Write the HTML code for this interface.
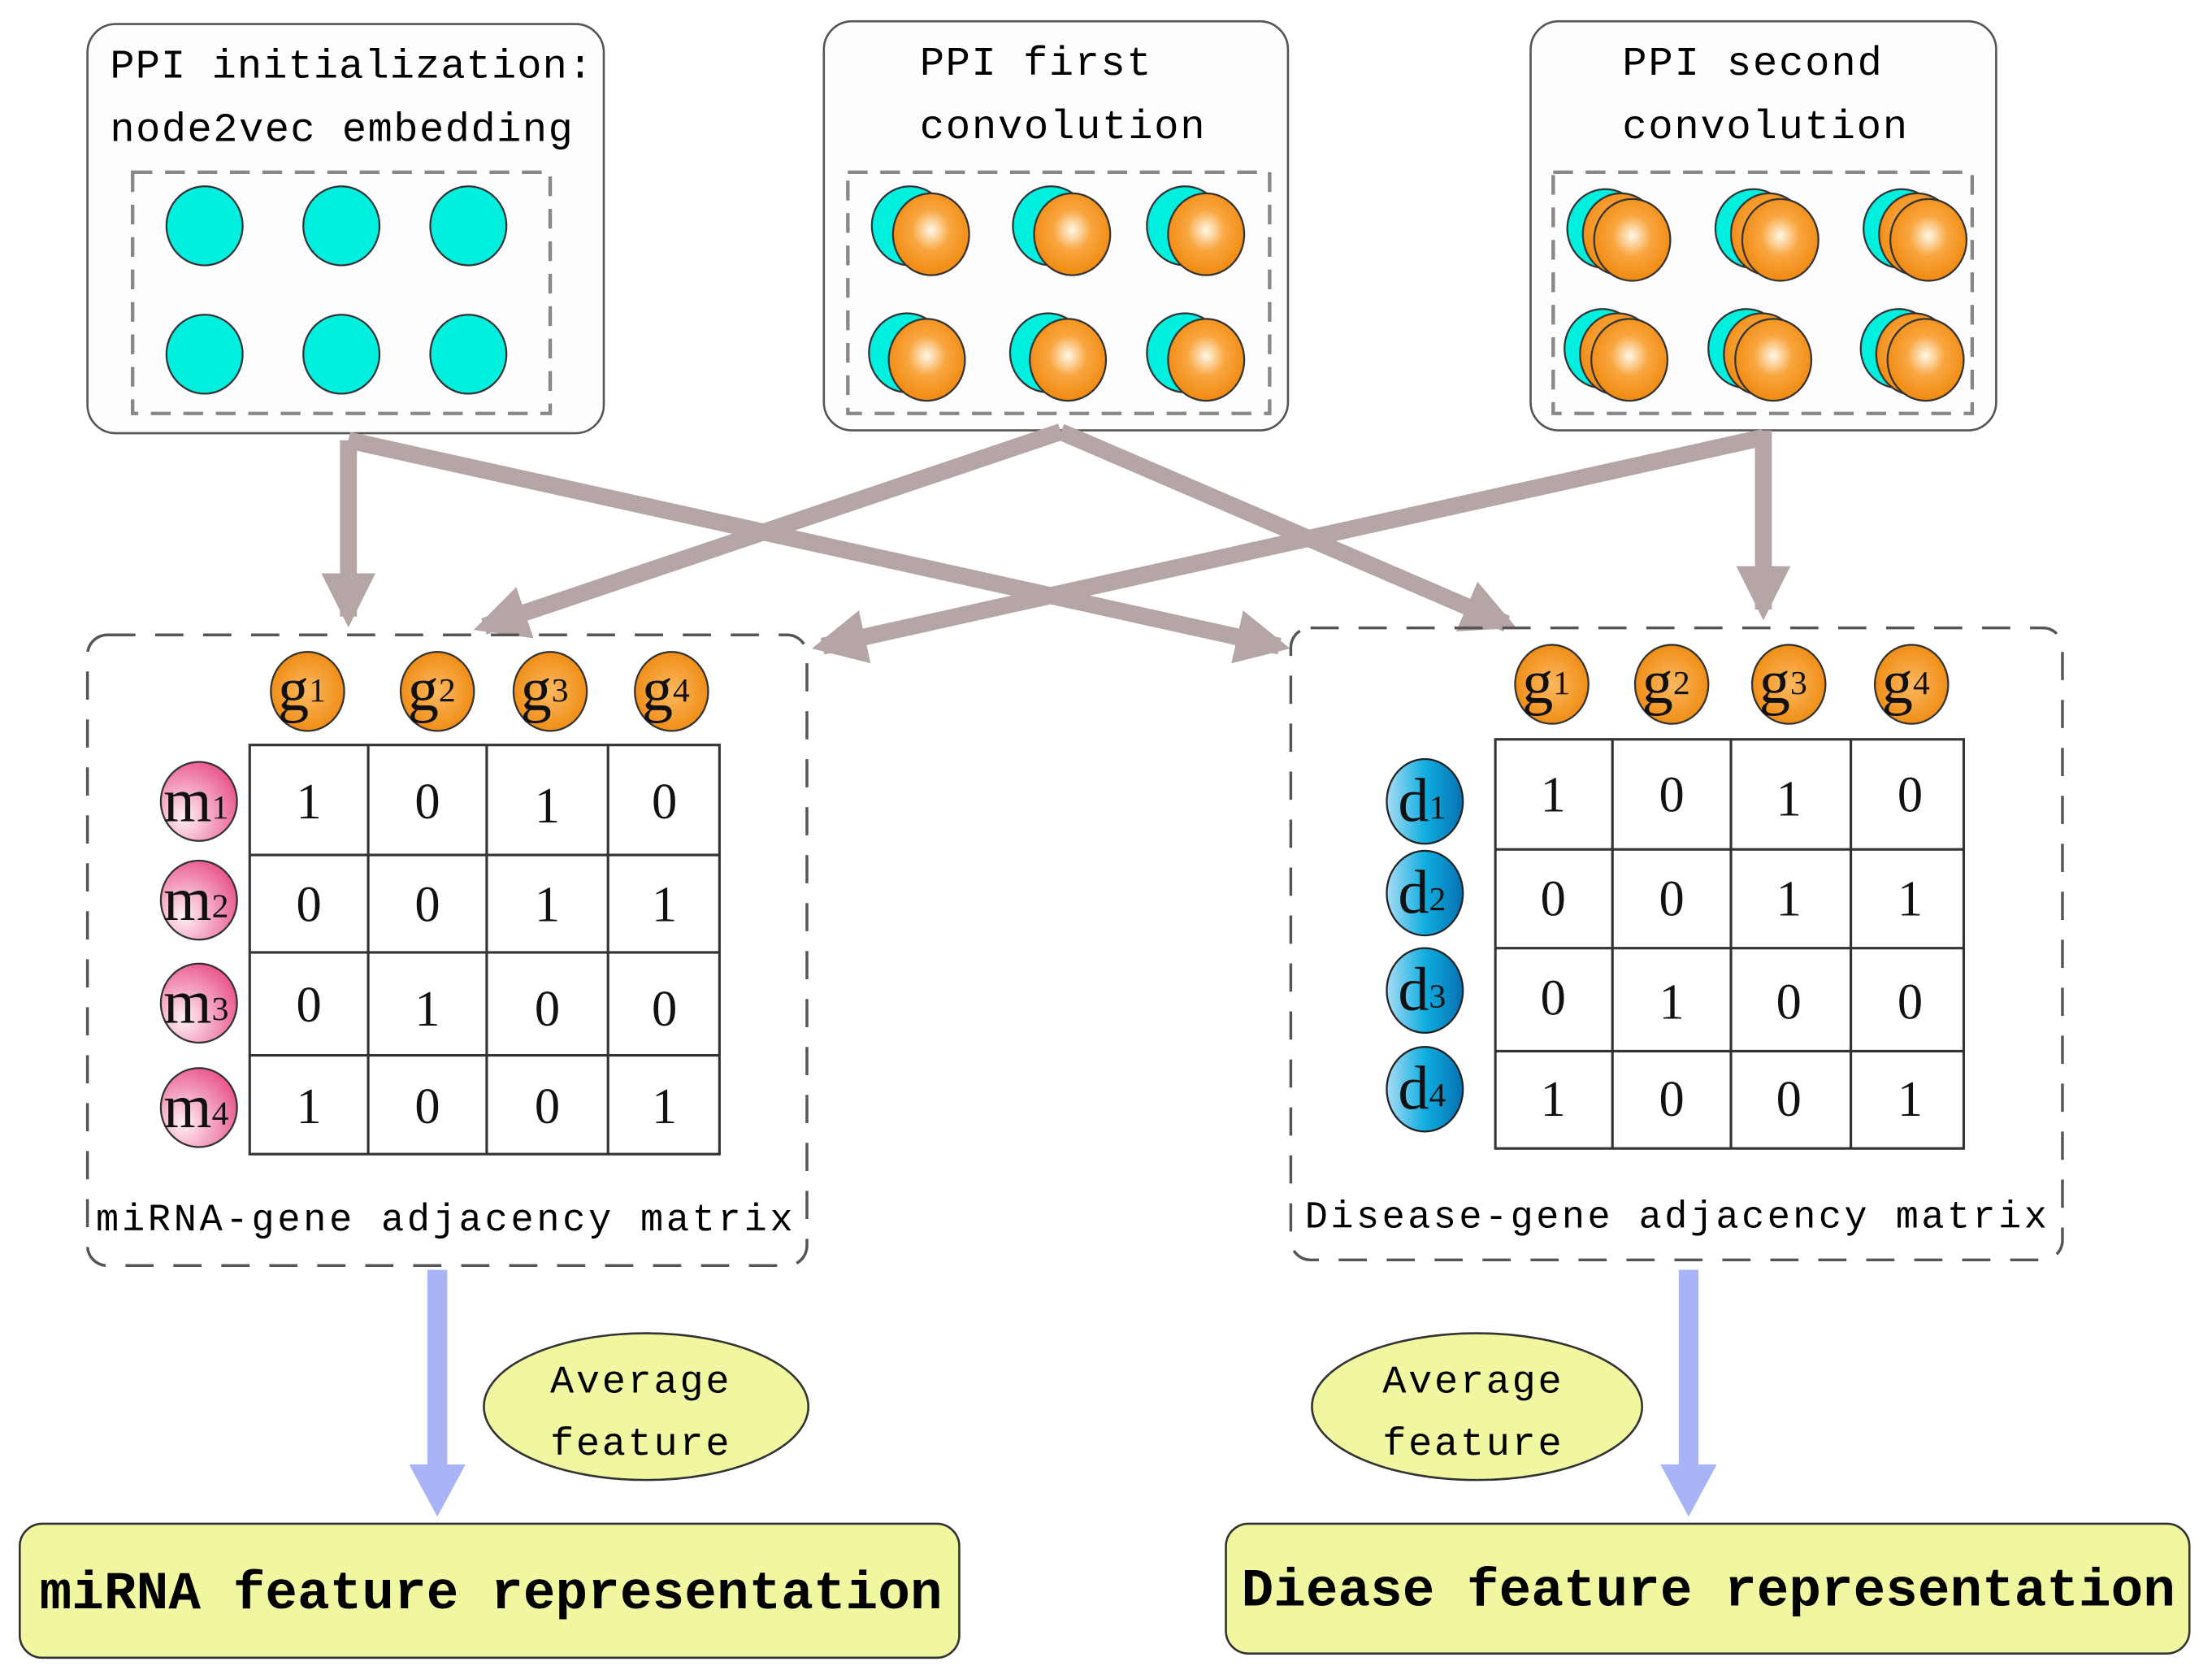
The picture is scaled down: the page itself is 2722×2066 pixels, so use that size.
<!DOCTYPE html>
<html><head><meta charset="utf-8"><style>html,body{margin:0;padding:0;background:#fff}svg{display:block}</style></head>
<body>
<svg width="2722" height="2066" viewBox="0 0 1568 1190" xmlns="http://www.w3.org/2000/svg">
<defs>
<radialGradient id="og" cx="0.5" cy="0.45" r="0.55"><stop offset="0" stop-color="#fff8e8"/><stop offset="0.45" stop-color="#f9a640"/><stop offset="1" stop-color="#f08a10"/></radialGradient>
<radialGradient id="og2" cx="0.5" cy="0.5" r="0.55"><stop offset="0" stop-color="#fbb860"/><stop offset="1" stop-color="#ef8a10"/></radialGradient>
<radialGradient id="pg" cx="0.3" cy="0.7" r="0.8"><stop offset="0" stop-color="#fff0f6"/><stop offset="1" stop-color="#e8508a"/></radialGradient>
<linearGradient id="bg" x1="0" y1="0" x2="1" y2="0"><stop offset="0" stop-color="#a8dcf4"/><stop offset="0.5" stop-color="#10aee0"/><stop offset="1" stop-color="#0670b0"/></linearGradient>
<marker id="ah" viewBox="0 0 10 10" refX="8" refY="5" markerWidth="3.2" markerHeight="3.2" orient="auto" markerUnits="strokeWidth"><path d="M0,0 L10,5 L0,10 z" fill="#b5a5a5"/></marker>
</defs>
<g font-family="Liberation Mono, monospace" fill="#000">
<rect x="62" y="17" width="366" height="290" rx="20" fill="#fdfcfe" stroke="#555" stroke-width="1.5"/>
<rect x="584" y="15" width="329" height="290" rx="20" fill="#fdfcfe" stroke="#555" stroke-width="1.5"/>
<rect x="1085" y="15" width="330" height="290" rx="20" fill="#fdfcfe" stroke="#555" stroke-width="1.5"/>
<g fill="none" stroke="#888" stroke-width="2.5" stroke-dasharray="14,9">
<rect x="94" y="122" width="296" height="171"/>
<rect x="601" y="122" width="299" height="171"/>
<rect x="1101" y="122" width="297" height="171"/>
</g>
<g font-size="29">
<text x="78" y="55" textLength="342">PPI initialization:</text>
<text x="78" y="100" textLength="328">node2vec embedding</text>
<text x="652" y="53" textLength="164">PPI first</text>
<text x="652" y="98" textLength="202">convolution</text>
<text x="1150" y="53" textLength="184">PPI second</text>
<text x="1150" y="98" textLength="202">convolution</text>
</g>
<g fill="#00f0e0" stroke="#333" stroke-width="1.3">
<ellipse cx="145" cy="160" rx="27" ry="28"/><ellipse cx="242" cy="160" rx="27" ry="28"/><ellipse cx="332" cy="160" rx="27" ry="28"/>
<ellipse cx="145" cy="251" rx="27" ry="28"/><ellipse cx="242" cy="251" rx="27" ry="28"/><ellipse cx="332" cy="251" rx="27" ry="28"/>
<ellipse cx="645" cy="160" rx="27" ry="28"/><ellipse cx="745" cy="160" rx="27" ry="28"/><ellipse cx="840" cy="160" rx="27" ry="28"/>
<ellipse cx="643" cy="250" rx="27" ry="28"/><ellipse cx="743" cy="250" rx="27" ry="28"/><ellipse cx="840" cy="250" rx="27" ry="28"/>
<ellipse cx="1138" cy="162" rx="27" ry="28"/><ellipse cx="1243" cy="162" rx="27" ry="28"/><ellipse cx="1348" cy="162" rx="27" ry="28"/>
<ellipse cx="1136" cy="247" rx="27" ry="28"/><ellipse cx="1238" cy="247" rx="27" ry="28"/><ellipse cx="1346" cy="247" rx="27" ry="28"/>
</g>
<g fill="url(#og)" stroke="#333" stroke-width="1.3">
<ellipse cx="660" cy="166" rx="27" ry="29"/><ellipse cx="760" cy="166" rx="27" ry="29"/><ellipse cx="855" cy="166" rx="27" ry="29"/>
<ellipse cx="657" cy="255" rx="27" ry="29"/><ellipse cx="757" cy="255" rx="27" ry="29"/><ellipse cx="855" cy="255" rx="27" ry="29"/>
<ellipse cx="1149" cy="166" rx="27" ry="29"/><ellipse cx="1254" cy="166" rx="27" ry="29"/><ellipse cx="1359" cy="166" rx="27" ry="29"/>
<ellipse cx="1147" cy="251" rx="27" ry="29"/><ellipse cx="1249" cy="251" rx="27" ry="29"/><ellipse cx="1357" cy="251" rx="27" ry="29"/>
<ellipse cx="1157" cy="170" rx="27" ry="29"/><ellipse cx="1262" cy="170" rx="27" ry="29"/><ellipse cx="1367" cy="170" rx="27" ry="29"/>
<ellipse cx="1155" cy="255" rx="27" ry="29"/><ellipse cx="1257" cy="255" rx="27" ry="29"/><ellipse cx="1365" cy="255" rx="27" ry="29"/>
</g>
<g stroke="#b5a5a5" stroke-width="12" fill="none" marker-end="url(#ah)">
<path d="M247,312 L247,437"/>
<path d="M247,312 L907,458"/>
<path d="M752,306 L343,444"/>
<path d="M752,306 L1068,442"/>
<path d="M1250,310 L583,458"/>
<path d="M1250,305 L1250,432"/>
</g>
<g fill="none" stroke="#555" stroke-width="2" stroke-dasharray="20,14">
<rect x="62" y="450" width="510" height="447" rx="14"/>
<rect x="915" y="445" width="547" height="448" rx="14"/>
</g>
<g fill="url(#og2)" stroke="#333" stroke-width="1.3">
<ellipse cx="218" cy="490" rx="26" ry="28"/><ellipse cx="310" cy="490" rx="26" ry="28"/><ellipse cx="390" cy="490" rx="26" ry="28"/><ellipse cx="476" cy="490" rx="26" ry="28"/>
<ellipse cx="1100" cy="485" rx="26" ry="28"/><ellipse cx="1185" cy="485" rx="26" ry="28"/><ellipse cx="1268" cy="485" rx="26" ry="28"/><ellipse cx="1355" cy="485" rx="26" ry="28"/>
</g>
<g fill="url(#pg)" stroke="#333" stroke-width="1.3">
<ellipse cx="141" cy="568" rx="27" ry="28"/><ellipse cx="141" cy="638" rx="27" ry="28"/><ellipse cx="141" cy="711" rx="27" ry="28"/><ellipse cx="141" cy="785" rx="27" ry="28"/>
</g>
<g fill="url(#bg)" stroke="#222" stroke-width="1.3">
<ellipse cx="1010" cy="568" rx="27" ry="30"/><ellipse cx="1010" cy="633" rx="27" ry="30"/><ellipse cx="1010" cy="702" rx="27" ry="30"/><ellipse cx="1010" cy="772" rx="27" ry="30"/>
</g>
<g font-family="Liberation Serif, serif" font-size="44" text-anchor="middle" fill="#111">
<text x="214" y="503">g<tspan font-size="24" dy="-6">1</tspan></text><text x="306" y="503">g<tspan font-size="24" dy="-6">2</tspan></text><text x="386" y="503">g<tspan font-size="24" dy="-6">3</tspan></text><text x="472" y="503">g<tspan font-size="24" dy="-6">4</tspan></text>
<text x="1096" y="498">g<tspan font-size="24" dy="-6">1</tspan></text><text x="1181" y="498">g<tspan font-size="24" dy="-6">2</tspan></text><text x="1264" y="498">g<tspan font-size="24" dy="-6">3</tspan></text><text x="1351" y="498">g<tspan font-size="24" dy="-6">4</tspan></text>
<text x="139" y="582">m<tspan font-size="24" dy="-2">1</tspan></text><text x="139" y="652">m<tspan font-size="24" dy="-2">2</tspan></text><text x="139" y="725">m<tspan font-size="24" dy="-2">3</tspan></text><text x="139" y="799">m<tspan font-size="24" dy="-2">4</tspan></text>
<text x="1008" y="582">d<tspan font-size="24" dy="-2">1</tspan></text><text x="1008" y="647">d<tspan font-size="24" dy="-2">2</tspan></text><text x="1008" y="716">d<tspan font-size="24" dy="-2">3</tspan></text><text x="1008" y="786">d<tspan font-size="24" dy="-2">4</tspan></text>
</g>
<g fill="#fff" stroke="#333" stroke-width="1.8">
<rect x="177" y="528" width="333" height="290"/>
<path d="M261,528V818M345,528V818M431,528V818M177,606H510M177,675H510M177,748H510" fill="none"/>
<rect x="1060" y="524" width="332" height="290"/>
<path d="M1143,524V814M1227,524V814M1312,524V814M1060,602H1392M1060,672H1392M1060,745H1392" fill="none"/>
</g>
<g font-family="Liberation Serif, serif" font-size="36" text-anchor="middle" fill="#111">
<text x="219" y="580">1</text><text x="303" y="580">0</text><text x="388" y="583">1</text><text x="471" y="580">0</text>
<text x="219" y="653">0</text><text x="303" y="653">0</text><text x="388" y="653">1</text><text x="471" y="653">1</text>
<text x="219" y="724">0</text><text x="303" y="727">1</text><text x="388" y="727">0</text><text x="471" y="727">0</text>
<text x="219" y="796">1</text><text x="303" y="796">0</text><text x="388" y="796">0</text><text x="471" y="796">1</text>
<text x="1101" y="575">1</text><text x="1185" y="575">0</text><text x="1268" y="578">1</text><text x="1354" y="575">0</text>
<text x="1101" y="649">0</text><text x="1185" y="649">0</text><text x="1268" y="649">1</text><text x="1354" y="649">1</text>
<text x="1101" y="719">0</text><text x="1185" y="722">1</text><text x="1268" y="722">0</text><text x="1354" y="722">0</text>
<text x="1101" y="791">1</text><text x="1185" y="791">0</text><text x="1268" y="791">0</text><text x="1354" y="791">1</text>
</g>
<g font-size="27">
<rect x="64" y="845" width="506" height="40" fill="#fff"/>
<text x="68" y="872" textLength="494">miRNA-gene adjacency matrix</text>
<rect x="920" y="842" width="540" height="40" fill="#fff"/>
<text x="925" y="870" textLength="526">Disease-gene adjacency matrix</text>
</g>
<g fill="#a8b4f5">
<rect x="303" y="900" width="14" height="140"/><path d="M290,1038 L330,1038 L310,1075 z"/>
<rect x="1190" y="900" width="14" height="140"/><path d="M1177,1038 L1217,1038 L1197,1075 z"/>
</g>
<g fill="#f0f7a0" stroke="#333" stroke-width="1.5">
<ellipse cx="458" cy="997" rx="115" ry="52"/>
<ellipse cx="1047" cy="997" rx="117" ry="52"/>
<rect x="14" y="1080" width="666" height="95" rx="16"/>
<rect x="869" y="1080" width="683" height="92" rx="16"/>
</g>
<g font-size="28">
<text x="390" y="987" textLength="127">Average</text>
<text x="390" y="1031" textLength="127">feature</text>
<text x="980" y="987" textLength="127">Average</text>
<text x="980" y="1031" textLength="127">feature</text>
</g>
<g font-size="38" font-weight="bold">
<text x="28" y="1140" textLength="640">miRNA feature representation</text>
<text x="880" y="1138" textLength="662">Diease feature representation</text>
</g>
</g>
</svg>
</body></html>
